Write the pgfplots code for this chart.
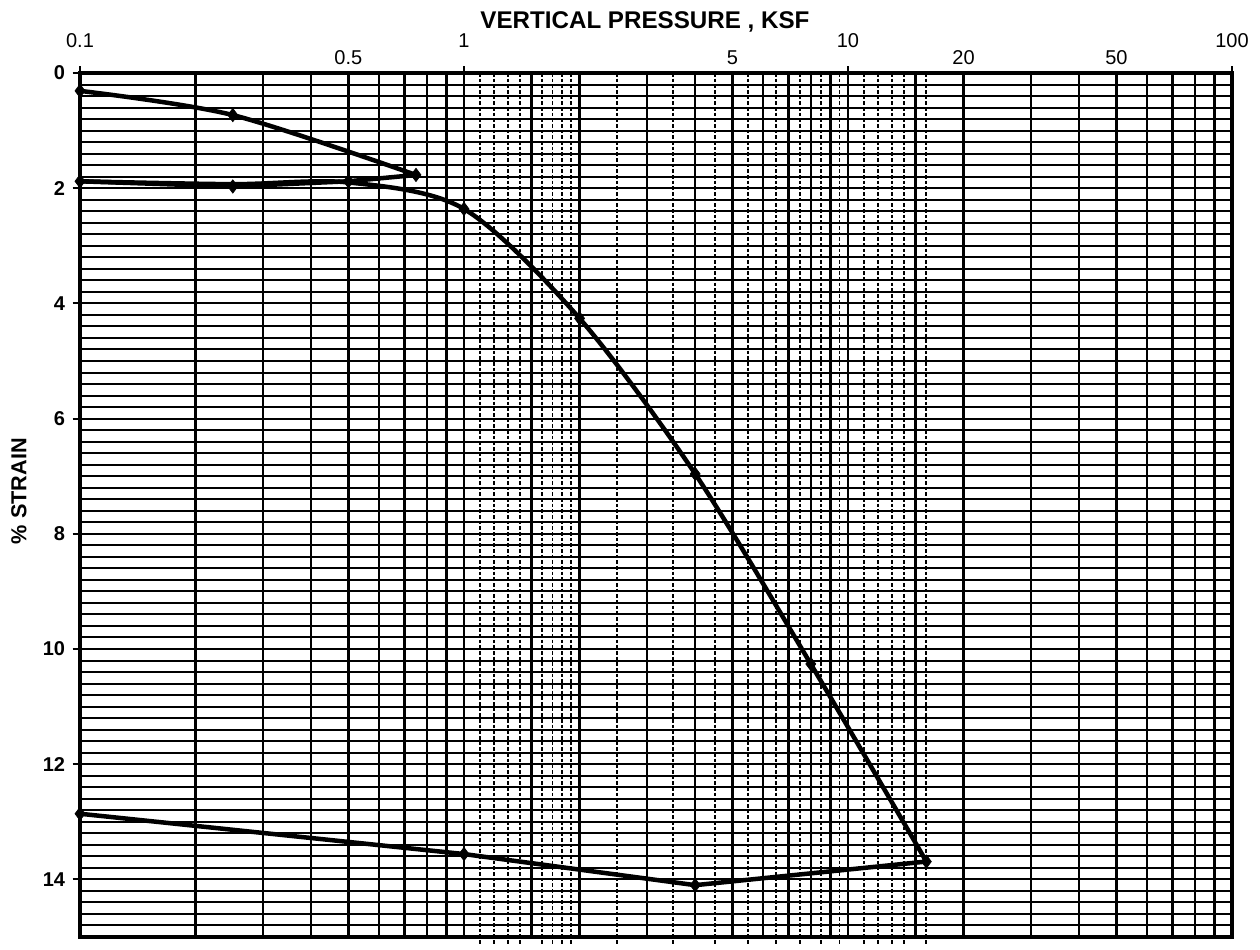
\documentclass[border=0pt]{standalone}
\usepackage{fontspec}
\setmainfont{Liberation Sans}
\usepackage{pgfplots}
\pgfplotsset{compat=1.18}
\usepackage{pgfplotstable}

% Consolidation test: vertical pressure (ksf) vs. strain (%)
% loading branch up to 0.75 ksf
\pgfplotstableread{
p e
0.1  0.31
0.25 0.73
0.75 1.77
}\loadA
% unloading back to 0.1 ksf
\pgfplotstableread{
p e
0.75 1.77
0.5  1.88
0.25 1.97
0.1  1.88
}\unloadA
% reloading and virgin compression to 16 ksf
\pgfplotstableread{
p e
0.1  1.88
0.25 1.93
0.5  1.90
1    2.36
2    4.26
4    6.96
8    10.26
16   13.69
}\loadB
% final rebound
\pgfplotstableread{
p e
16   13.69
4    14.10
1    13.56
0.1  12.86
}\unloadB
% measured readings (marked points)
\pgfplotstableread{
p e
0.1  0.31
0.25 0.73
0.75 1.77
0.5  1.88
0.25 1.97
0.1  1.88
1    2.36
2    4.26
4    6.96
8    10.26
16   13.69
4    14.10
1    13.56
0.1  12.86
}\readings

\begin{document}
\begin{tikzpicture}
\useasboundingbox (-48pt,-7.8pt) rectangle (708pt,562.2pt);
\begin{axis}[
  scale only axis,
  width=691.2pt, height=518.4pt,
  xmode=log, xmin=0.1, xmax=100,
  ymin=0, ymax=15, y dir=reverse,
  clip=false,
  axis line style={line width=1.9pt},
  xtick={0.1,0.2,0.3,0.4,0.5,0.6,0.7,0.8,0.9,1,1.5,2,3,4,5,6,7,8,9,10,15,20,30,40,50,60,70,80,90,100},
  xticklabels={},
  xtick style={draw=none},
  xmajorgrids,
  major x grid style={black, line width=1.4pt},
  ytick={0,2,4,6,8,10,12,14},
  minor ytick={0.2,0.4,...,14.81},
  ymajorgrids, yminorgrids,
  major y grid style={black, line width=1.2pt},
  minor y grid style={black, line width=1.2pt},
  ytick pos=left,
  tick align=outside,
  major tick length=4.5pt,
  minor tick length=0pt,
  ytick style={black, line width=1.1pt},
  /pgf/number format/assume math mode=true,
  yticklabel style={font=\fontsize{12}{14}\selectfont\bfseries, xshift=-1pt},
]
% intermediate (dashed) pressure lines
\pgfplotsinvokeforeach{1.1,1.2,1.3,1.4,1.6,1.7,1.8,1.9,2.5,3.5,4.5,5.5,6.5,7.5,8.5,9.5,11,12,13,14,16}{
  \draw[black, line width=1.1pt, dash pattern=on 2.2pt off 1.2pt] (axis cs:#1,0) -- (axis cs:#1,15.12);
}
% decade ticks on top edge
\pgfplotsinvokeforeach{0.1,1,10,100}{
  \draw[black, line width=1.1pt] (axis cs:#1,0) -- ([yshift=4.5pt]axis cs:#1,0);
}

\addplot[black, line width=2.7pt, smooth, no marks] table[x=p,y=e] {\loadA};
\addplot[black, line width=2.7pt, no marks] table[x=p,y=e] {\unloadA};
\addplot[black, line width=2.7pt, smooth, no marks] table[x=p,y=e] {\loadB};
\addplot[black, line width=2.7pt, no marks] table[x=p,y=e] {\unloadB};
\addplot[only marks, mark=diamond*, mark size=4pt, black] table[x=p,y=e] {\readings};

% pressure labels along the top edge
\pgfplotsinvokeforeach{0.1,1,10,100}{
  \node[anchor=south, inner sep=0pt, font=\fontsize{12}{14}\selectfont] at ([yshift=15pt]axis cs:#1,0) {#1};
}
\pgfplotsinvokeforeach{0.5,5,20,50}{
  \node[anchor=south, inner sep=0pt, font=\fontsize{12}{14}\selectfont] at ([yshift=5pt]axis cs:#1,0) {#1};
}
\node[anchor=south, inner sep=0pt, font=\fontsize{14.5}{16}\selectfont\bfseries]
  at ([yshift=24pt]axis cs:2.96,0) {VERTICAL PRESSURE , KSF};
\node[rotate=90, font=\fontsize{13}{15}\selectfont\bfseries]
  at ([xshift=-36.6pt]axis cs:0.1,7.26) {\% STRAIN};
\end{axis}
\end{tikzpicture}
\end{document}
